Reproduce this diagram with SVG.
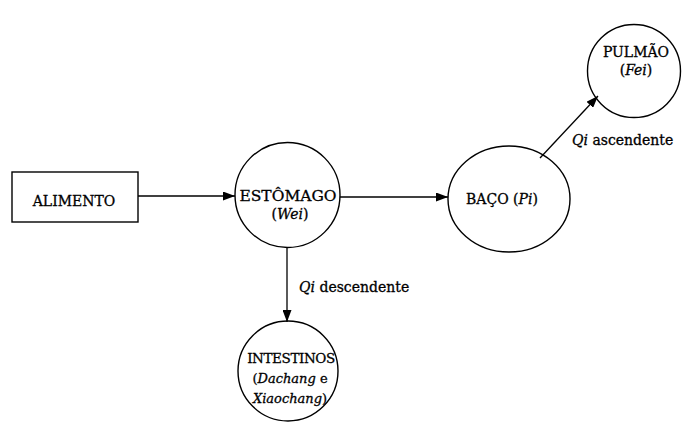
<svg xmlns="http://www.w3.org/2000/svg" width="682" height="424" viewBox="0 0 682 424">
<defs>
<style>
.n{fill:none;stroke:#000;stroke-width:1.4}
.t{font-family:"DejaVu Serif","Liberation Serif",serif;font-size:14px;fill:#000;stroke:#000;stroke-width:0.3;text-anchor:middle}
.l{font-family:"DejaVu Serif","Liberation Serif",serif;font-size:14px;fill:#000;stroke:#000;stroke-width:0.3}
.i{font-style:italic}
.c{stroke:#000;stroke-width:1.3;fill:none}
</style>
<marker id="ah" viewBox="0 0 12 9" refX="12" refY="4.5" markerWidth="12" markerHeight="9" markerUnits="userSpaceOnUse" orient="auto">
<path d="M0,0 L12,4.5 L0,9 Z" fill="#000"/>
</marker>
</defs>
<rect width="682" height="424" fill="#fff"/>
<g id="connectors">
<line class="c" x1="138" y1="196" x2="235" y2="196" marker-end="url(#ah)"/>
<line class="c" x1="340" y1="197" x2="448" y2="197" marker-end="url(#ah)"/>
<line class="c" x1="540" y1="158" x2="598" y2="96" marker-end="url(#ah)"/>
<line class="c" x1="287" y1="247" x2="287" y2="322" marker-end="url(#ah)"/>
<text class="l" x="299" y="292"><tspan class="i">Qi</tspan> descendente</text>
<text class="l" x="572" y="145"><tspan class="i">Qi</tspan> ascendente</text>
</g>
<g id="alimento">
<rect class="n" x="12" y="172" width="126" height="50"/>
<text class="t" x="74" y="206">ALIMENTO</text>
</g>
<g id="estomago">
<circle class="n" cx="287.5" cy="195" r="52.5"/>
<text class="t" x="288" y="201" style="font-size:15.5px">ESTÔMAGO</text>
<text class="t" x="290" y="219">(<tspan class="i">Wei</tspan>)</text>
</g>
<g id="baco">
<ellipse class="n" cx="509" cy="199" rx="61" ry="53"/>
<text class="t" x="502" y="204">BAÇO (<tspan class="i">Pi</tspan>)</text>
</g>
<g id="pulmao">
<circle class="n" cx="634" cy="71" r="46.5"/>
<text class="t" x="636" y="57">PULMÃO</text>
<text class="t" x="636" y="75">(<tspan class="i">Fei</tspan>)</text>
</g>
<g id="intestinos">
<circle class="n" cx="288" cy="371" r="50"/>
<text class="t" x="291" y="363" style="font-size:13.5px;letter-spacing:-0.4px">INTESTINOS</text>
<text class="t" x="290" y="383" style="font-size:13px">(<tspan class="i">Dachang</tspan> e</text>
<text class="t" x="290" y="403" style="font-size:13px"><tspan class="i">Xiaochang</tspan>)</text>
</g>
</svg>
